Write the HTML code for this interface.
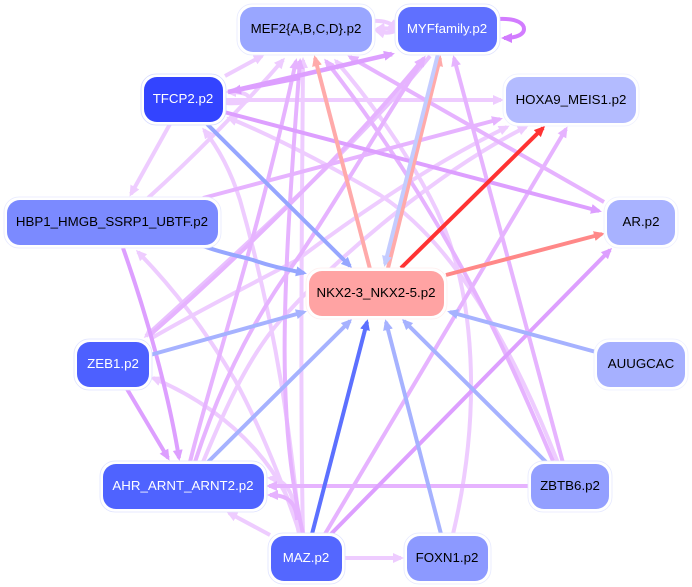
<!DOCTYPE html>
<html><head><meta charset="utf-8"><style>
html,body{margin:0;padding:0;background:#fff}
svg{display:block}
text{font-family:"Liberation Sans",sans-serif;font-size:13.3px;text-anchor:middle}
.e{fill:none;stroke-width:4}
.p1{stroke:#eeccff;marker-end:url(#mp1)}
.p2{stroke:#e6b3ff;marker-end:url(#mp2)}
.p3{stroke:#dd9fff;marker-end:url(#mp3)}
.b1{stroke:#a6b2ff;marker-end:url(#mb1)}
.b2{stroke:#96a6ff;marker-end:url(#mb2)}
.b3{stroke:#5c70ff;marker-end:url(#mb3)}
.l{stroke:#c4ccff;marker-end:url(#ml)}
.r1{stroke:#ffaaaa;marker-end:url(#mr1)}
.r2{stroke:#ff8888;marker-end:url(#mr2)}
.r3{stroke:#ff3333;marker-end:url(#mr3)}
.o{fill:#fff;stroke-width:.8}
</style></head><body>
<svg width="692" height="587" viewBox="0 0 692 587" xmlns="http://www.w3.org/2000/svg">
<defs>
<marker id="mp1" markerUnits="userSpaceOnUse" markerWidth="13" markerHeight="11" refX="8" refY="5" orient="auto"><path d="M0 0L11 5L0 10z" fill="#eeccff"/></marker>
<marker id="mp2" markerUnits="userSpaceOnUse" markerWidth="13" markerHeight="11" refX="8" refY="5" orient="auto"><path d="M0 0L11 5L0 10z" fill="#e6b3ff"/></marker>
<marker id="mp3" markerUnits="userSpaceOnUse" markerWidth="13" markerHeight="11" refX="8" refY="5" orient="auto"><path d="M0 0L11 5L0 10z" fill="#dd9fff"/></marker>
<marker id="mb1" markerUnits="userSpaceOnUse" markerWidth="13" markerHeight="11" refX="8" refY="5" orient="auto"><path d="M0 0L11 5L0 10z" fill="#a6b2ff"/></marker>
<marker id="mb2" markerUnits="userSpaceOnUse" markerWidth="13" markerHeight="11" refX="8" refY="5" orient="auto"><path d="M0 0L11 5L0 10z" fill="#96a6ff"/></marker>
<marker id="mb3" markerUnits="userSpaceOnUse" markerWidth="13" markerHeight="11" refX="8" refY="5" orient="auto"><path d="M0 0L11 5L0 10z" fill="#5c70ff"/></marker>
<marker id="ml" markerUnits="userSpaceOnUse" markerWidth="13" markerHeight="11" refX="8" refY="5" orient="auto"><path d="M0 0L11 5L0 10z" fill="#c4ccff"/></marker>
<marker id="mr1" markerUnits="userSpaceOnUse" markerWidth="13" markerHeight="11" refX="8" refY="5" orient="auto"><path d="M0 0L11 5L0 10z" fill="#ffaaaa"/></marker>
<marker id="mr2" markerUnits="userSpaceOnUse" markerWidth="13" markerHeight="11" refX="8" refY="5" orient="auto"><path d="M0 0L11 5L0 10z" fill="#ff8888"/></marker>
<marker id="mr3" markerUnits="userSpaceOnUse" markerWidth="13" markerHeight="11" refX="8" refY="5" orient="auto"><path d="M0 0L11 5L0 10z" fill="#ff3333"/></marker>
<marker id="ms" markerUnits="userSpaceOnUse" markerWidth="13" markerHeight="11" refX="8" refY="5" orient="auto"><path d="M0 0L11 5L0 10z" fill="#d27cff"/></marker>
</defs>
<rect width="692" height="587" fill="#fff"/>

<!-- pale purple edges -->
<path class="e p1" d="M225 76L262 56"/>
<path class="e p1" d="M372 21C385 20 392 24 397 28"/>
<path class="e p1" d="M397 30C390 34 383 33 377 31"/>
<path class="e p1" d="M397 30C390 28 383 28 377 29"/>
<path class="e p1" d="M226 103C238 104 250 102 249 98C248 93 238 92 228 92"/>
<path class="e p1" d="M224 100L501 100"/>
<path class="e p1" d="M148 198C190 160 240 110 283 60"/>
<path class="e p1" d="M170 124L131 194"/>
<path class="e p1" d="M300 534C292 450 280 340 240 200C232 175 220 150 204 130"/>
<path class="e p1" d="M300 534C285 490 262 430 235 380C205 330 175 290 138 252"/>
<path class="e p1" d="M299 534C290 480 240 415 153 378"/>
<path class="e p1" d="M270 535L229 513"/>
<path class="e p1" d="M296 520C294 490 285 480 270 478"/>
<path class="e p1" d="M343 558L401 558"/>
<path class="e p1" d="M453 534C480 420 480 290 430 197C405 150 370 100 336 61"/>
<path class="e p1" d="M558 463C510 340 450 240 380 195C320 160 270 135 229 118"/>
<path class="e p1" d="M203 462C225 410 250 350 290 310C340 255 440 170 526 127"/>
<path class="e p1" d="M150 339C200 310 250 285 297 260C370 205 440 160 507 127"/>
<path class="e p1" d="M430 56C370 130 290 205 146 336" style="stroke:#e9c0ff"/>
<path class="e p1" d="M303 534C300 400 302 200 303 60"/>

<!-- mid purple edges -->
<path class="e p2" d="M203 198L500 119"/>
<path class="e p2" d="M190 462C210 380 260 230 296 61"/>
<path class="e p2" d="M195 462C225 370 260 310 300 255C340 195 390 110 424 58"/>
<path class="e p2" d="M150 335C230 265 340 160 423 59"/>
<path class="e p2" d="M303 534C278 420 280 320 300 61"/>
<path class="e p2" d="M325 534L566 129"/>
<path class="e p2" d="M604 202L350 57"/>
<path class="e p2" d="M553 461C510 360 450 220 326 61"/>
<path class="e p2" d="M563 463L454 58"/>
<path class="e p2" d="M530 486L269 486"/>
<path class="e p2" d="M297 520C296 500 285 495 270 495"/>

<!-- strong purple edges -->
<path class="e p3" d="M228 92L392 54" style="stroke-width:4.6"/>
<path class="e p3" d="M300 78L233 91"/>
<path class="e p3" d="M224 112L599 211"/>
<path class="e p3" d="M127 389L168 458"/>
<path class="e p3" d="M123 248C145 310 168 390 179 458"/>
<path class="e p3" d="M331 534L610 250"/>
<path class="e" d="M498 19C518 18 524 24 524 29C524 35 515 38 504 38" style="stroke:#d27cff;stroke-width:4;marker-end:url(#ms)"/>

<!-- blue edges -->
<path class="e b2" d="M207 124L350 266"/>
<path class="e b2" d="M203 246C225 254 240 256 253 260C270 266 285 269 304 273"/>
<path class="e b1" d="M150 355L304 312"/>
<path class="e b1" d="M207 463L350 321"/>
<path class="e b3" d="M312 534L367 322"/>
<path class="e b1" d="M441 534L386 322"/>
<path class="e b1" d="M546 462L404 321"/>
<path class="e b1" d="M596 352L450 312"/>

<!-- red edges -->
<path class="e r1" d="M370 269L315 58"/>
<path class="e r1" d="M388 268L440 58"/>
<path class="e l" d="M438 54L385 264"/>
<path class="e r2" d="M446 275L602 234"/>
<path class="e r3" d="M401 268L543 128"/>

<!-- nodes -->
<g>
<rect class="o" x="237" y="4" width="138" height="51" rx="15" stroke="#e6e9ff"/>
<rect x="240" y="7" width="132" height="45" rx="13" fill="#99a6ff"/>
<text x="306" y="33">MEF2{A,B,C,D}.p2</text>

<rect class="o" x="395" y="4" width="105" height="51" rx="15" stroke="#dfe3ff"/>
<rect x="398" y="7" width="99" height="45" rx="13" fill="#5f70ff"/>
<text x="447" y="33" fill="#fff">MYFfamily.p2</text>

<rect class="o" x="141" y="74" width="85" height="51" rx="15" stroke="#d5daff"/>
<rect x="144" y="77" width="79" height="45" rx="13" fill="#3344ff"/>
<text x="183" y="103" fill="#fff">TFCP2.p2</text>

<rect class="o" x="503" y="74" width="136" height="52" rx="15" stroke="#eef0ff"/>
<rect x="506" y="77" width="130" height="46" rx="13" fill="#b3bbff"/>
<text x="571" y="104">HOXA9_MEIS1.p2</text>

<rect class="o" x="4" y="197" width="217" height="51" rx="15" stroke="#e6e9ff"/>
<rect x="7" y="200" width="211" height="45" rx="13" fill="#7b8aff"/>
<text x="112" y="226">HBP1_HMGB_SSRP1_UBTF.p2</text>

<rect class="o" x="604" y="197" width="74" height="51" rx="15" stroke="#eef0ff"/>
<rect x="607" y="200" width="68" height="45" rx="13" fill="#a8b2ff"/>
<text x="641" y="226">AR.p2</text>

<rect class="o" x="306" y="268" width="141" height="51" rx="15" stroke="#ffeeee"/>
<rect x="309" y="271" width="135" height="45" rx="13" fill="#ffa3a3"/>
<text x="376" y="297">NKX2-3_NKX2-5.p2</text>

<rect class="o" x="74" y="339" width="78" height="51" rx="15" stroke="#dfe3ff"/>
<rect x="77" y="342" width="72" height="45" rx="13" fill="#4d60ff"/>
<text x="113" y="368" fill="#fff">ZEB1.p2</text>

<rect class="o" x="594" y="339" width="94" height="51" rx="15" stroke="#eef0ff"/>
<rect x="597" y="342" width="88" height="45" rx="13" fill="#a6b0ff"/>
<text x="641" y="368">AUUGCAC</text>

<rect class="o" x="100" y="461" width="167" height="51" rx="15" stroke="#dfe3ff"/>
<rect x="103" y="464" width="161" height="45" rx="13" fill="#4f63ff"/>
<text x="183" y="490" fill="#fff">AHR_ARNT_ARNT2.p2</text>

<rect class="o" x="528" y="461" width="84" height="51" rx="15" stroke="#e6e9ff"/>
<rect x="531" y="464" width="78" height="45" rx="13" fill="#939fff"/>
<text x="570" y="490">ZBTB6.p2</text>

<rect class="o" x="268" y="533" width="77" height="51" rx="15" stroke="#dfe3ff"/>
<rect x="271" y="536" width="71" height="45" rx="13" fill="#5467ff"/>
<text x="306" y="562" fill="#fff">MAZ.p2</text>

<rect class="o" x="404" y="533" width="87" height="51" rx="15" stroke="#e6e9ff"/>
<rect x="407" y="536" width="81" height="45" rx="13" fill="#8c99ff"/>
<text x="447" y="562">FOXN1.p2</text>
</g>
</svg>
</body></html>
